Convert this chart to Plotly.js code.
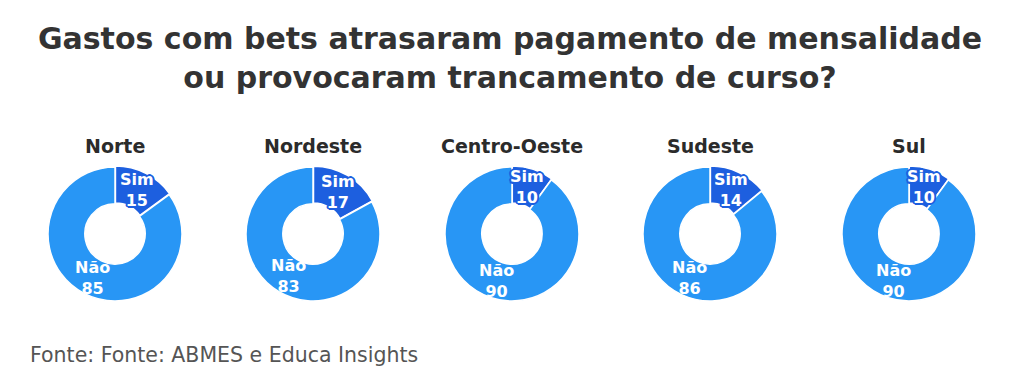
<!DOCTYPE html>
<html>
<head>
<meta charset="utf-8">
<script src="https://cdn.plot.ly/plotly-3.0.1.min.js"></script>
<style>html,body{margin:0;padding:0;background:#fff;}#chart{width:1024px;height:387px;}</style>
</head>
<body>
<div id="chart"></div>
<script>
const regions = ["Norte", "Nordeste", "Centro-Oeste", "Sudeste", "Sul"];
const answers = ["Sim", "Não"];
const simValues = [15, 17, 10, 14, 10];
const naoValues = [85, 83, 90, 86, 90];
const titleText = "Gastos com bets atrasaram pagamento de mensalidade<br>ou provocaram trancamento de curso?";
const sourceText = "Fonte: Fonte: ABMES e Educa Insights";

const W = 1024, H = 387;
const centersX = [115, 313, 512, 710, 909];
const R = 68, CY = 234, HOLE = 0.45;
const FONT = "DejaVu Sans, Verdana, sans-serif";
const SIM_COLOR = "#1d5fdf", NAO_COLOR = "#2896f5";

function outline(c) {
  const o = [];
  [[2,0],[-2,0],[0,2],[0,-2],[1.5,1.5],[-1.5,1.5],[1.5,-1.5],[-1.5,-1.5]].forEach(d => o.push(d[0] + "px " + d[1] + "px 0 " + c));
  return o.join(", ");
}

const data = regions.map((r, i) => ({
  type: "pie",
  labels: answers,
  values: [simValues[i], naoValues[i]],
  hole: HOLE,
  sort: false,
  direction: "clockwise",
  rotation: 0,
  pull: [0.015, 0],
  marker: {colors: [SIM_COLOR, NAO_COLOR], line: {color: "#ffffff", width: 1.5}},
  textinfo: "none",
  hoverinfo: "label+value",
  showlegend: false,
  domain: {
    x: [(centersX[i] - R) / W, (centersX[i] + R) / W],
    y: [1 - (CY + R) / H, 1 - (CY - R) / H]
  }
}));

const annotations = [];
regions.forEach((r, i) => {
  annotations.push({
    text: r, xref: "paper", yref: "paper",
    x: centersX[i] / W, y: 1 - 146 / H, xanchor: "center", yanchor: "middle",
    showarrow: false, font: {family: FONT, size: 19, color: "#2b2b2b", weight: 700}
  });
  // slice labels placed at each slice's mid-angle, mid-ring radius
  const vals = [simValues[i], naoValues[i]];
  const total = vals[0] + vals[1];
  let cum = 0;
  const rMid = 49;
  vals.forEach((v, k) => {
    const mid = (cum + v / 2) / total * 2 * Math.PI;
    cum += v;
    const px = centersX[i] + rMid * Math.sin(mid);
    const py = CY - rMid * Math.cos(mid);
    const font = {family: FONT, size: 16, color: "#ffffff", weight: 700};
    if (k === 0) font.shadow = outline(SIM_COLOR);
    annotations.push({
      text: answers[k] + "<br>" + v,
      xref: "paper", yref: "paper", x: px / W, y: 1 - py / H,
      xanchor: "center", yanchor: "middle", showarrow: false,
      font: font
    });
  });
});
annotations.push({
  text: sourceText, xref: "paper", yref: "paper",
  x: 28 / W, y: 1 - 355 / H, xanchor: "left", yanchor: "middle",
  showarrow: false, font: {family: FONT, size: 20.5, color: "#555555"}
});

const layout = {
  width: W, height: H,
  margin: {l: 0, r: 0, t: 0, b: 0},
  paper_bgcolor: "#ffffff",
  title: {
    text: titleText, x: 510 / W, xanchor: "center", y: 1 - 49 / H, yanchor: "middle",
    font: {family: FONT, size: 30, color: "#333333", weight: 700}
  },
  annotations: annotations
};

Plotly.newPlot("chart", data, layout, {displayModeBar: false, staticPlot: true});
</script>
</body>
</html>
